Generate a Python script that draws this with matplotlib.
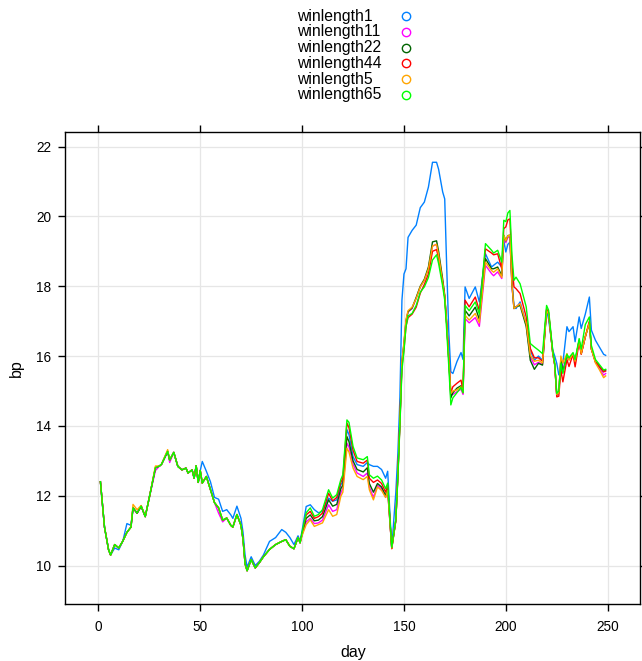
import matplotlib
matplotlib.use("Agg")
import matplotlib.pyplot as plt
from matplotlib.lines import Line2D

plt.rcParams['font.family'] = ['Liberation Sans', 'DejaVu Sans']

# trading days sampled along the series
days = [
    1, 3, 5, 6, 8, 10, 12, 14, 16, 17, 19, 21, 23, 25, 28, 30, 31, 34, 35, 37,
    39, 41, 43, 44, 46, 47, 48, 49, 50,
    51, 53, 55, 57, 59, 61, 63, 65, 66, 68, 70, 71, 72, 73, 75, 77, 79, 81, 84,
    87, 90, 92, 94, 96, 98, 99,
    100, 102, 104, 106, 108, 110, 113, 115, 117, 119, 120, 122, 123, 125, 127,
    130, 132, 133, 135, 137, 139, 141, 142, 144, 146, 147, 148, 149,
    150, 151, 152, 154, 156, 158, 160, 162, 164, 166, 167, 169, 170, 171, 172,
    173, 174, 176, 178, 179, 180, 182, 185, 187, 190, 193, 194, 196, 198, 199,
    200, 201, 202, 203,
    204, 205, 207, 210, 212, 214, 216, 218, 220, 221, 223, 224, 225, 226, 227,
    228, 230, 231, 233, 234, 236, 237, 239, 241, 242, 244, 246, 248, 249,
]

# spread in bp, one list per rolling window length
winlength1 = [
    12.40, 11.10, 10.45, 10.30, 10.50, 10.45, 10.70, 11.20, 11.15, 11.65, 11.50, 11.70, 11.40, 11.95, 12.80, 12.85, 12.90, 13.27, 13.02, 13.24,
    12.84, 12.74, 12.79, 12.65, 12.74, 12.50, 12.86, 12.38, 12.72,
    12.98, 12.70, 12.40, 11.95, 11.90, 11.55, 11.60, 11.45, 11.35, 11.70, 11.35, 10.95, 10.30, 9.95, 10.25, 10.00, 10.12, 10.30, 10.69,
    10.80, 11.03, 10.95, 10.80, 10.60, 10.85, 10.70,
    11.00, 11.69, 11.74, 11.60, 11.51, 11.55, 11.93, 11.84, 11.88, 12.31, 12.40, 13.89, 13.75, 13.12, 12.89,
    12.84, 12.95, 12.89, 12.84, 12.84, 12.75, 12.50, 12.70, 10.50, 12.10, 13.20, 14.80, 17.60,
    18.35, 18.50, 19.40, 19.60, 19.75, 20.25, 20.41, 20.84, 21.55, 21.55, 21.35, 20.70, 20.50, 18.50, 16.70,
    15.55, 15.50, 15.84, 16.10, 15.90, 17.98, 17.65, 17.98, 17.55, 18.93, 18.55, 18.60, 18.69, 18.55, 19.30,
    18.98, 19.20, 19.26, 18.20,
    17.41, 17.36, 17.55, 16.93, 16.17, 15.88, 16.00, 15.88, 17.31, 17.05, 16.17, 16.00, 15.79, 15.46, 15.50,
    15.80, 16.84, 16.70, 16.84, 16.41, 17.12, 16.79, 17.20, 17.69, 16.74, 16.45, 16.25, 16.05, 16.02,
]
winlength11 = [
    12.40, 11.10, 10.45, 10.30, 10.60, 10.50, 10.70, 10.95, 11.10, 11.65, 11.50, 11.70, 11.40, 11.95, 12.72, 12.85, 12.90, 13.27, 12.95, 13.24,
    12.84, 12.74, 12.79, 12.65, 12.74, 12.50, 12.86, 12.38, 12.72,
    12.36, 12.55, 12.17, 11.80, 11.50, 11.25, 11.36, 11.15, 11.10, 11.46, 11.15, 10.75, 10.05, 9.85, 10.17, 9.93, 10.08, 10.25, 10.46,
    10.60, 10.69, 10.74, 10.55, 10.48, 10.80, 10.65,
    10.88, 11.25, 11.35, 11.20, 11.22, 11.30, 11.74, 11.55, 11.60, 12.08, 12.20, 13.50, 13.40, 12.90, 12.65,
    12.55, 12.65, 12.25, 11.95, 12.30, 12.20, 11.95, 12.15, 10.50, 11.30, 12.60, 14.10, 15.80,
    16.35, 17.00, 17.27, 17.36, 17.65, 17.98, 18.17, 18.50, 19.15, 19.20, 18.90, 18.10, 17.70, 16.90, 15.90,
    14.90, 14.90, 14.98, 15.05, 14.90, 17.07, 16.95, 17.10, 16.85, 18.60, 18.36, 18.30, 18.41, 18.22, 19.40,
    19.25, 19.40, 19.40, 18.00,
    17.36, 17.41, 17.50, 16.90, 15.98, 15.75, 15.82, 15.76, 17.30, 17.20, 16.10, 15.75, 14.88, 14.95, 15.90,
    15.60, 16.00, 15.90, 16.07, 15.85, 16.45, 16.07, 16.55, 16.95, 16.20, 15.83, 15.65, 15.45, 15.50,
]
winlength22 = [
    12.40, 11.10, 10.45, 10.30, 10.60, 10.50, 10.70, 10.95, 11.10, 11.65, 11.50, 11.70, 11.40, 11.95, 12.80, 12.85, 12.90, 13.27, 13.02, 13.24,
    12.84, 12.74, 12.79, 12.65, 12.74, 12.50, 12.86, 12.38, 12.72,
    12.36, 12.55, 12.17, 11.80, 11.65, 11.30, 11.36, 11.15, 11.10, 11.46, 11.15, 10.75, 10.05, 9.85, 10.17, 9.93, 10.08, 10.25, 10.46,
    10.60, 10.69, 10.74, 10.55, 10.48, 10.80, 10.65,
    10.90, 11.35, 11.45, 11.28, 11.30, 11.40, 11.88, 11.70, 11.75, 12.20, 12.30, 13.69, 13.55, 13.00, 12.75,
    12.68, 12.80, 12.35, 12.10, 12.35, 12.25, 12.00, 12.20, 10.50, 11.30, 12.60, 14.15, 15.85,
    16.35, 17.00, 17.27, 17.38, 17.68, 18.00, 18.20, 18.55, 19.27, 19.30, 19.00, 18.20, 17.75, 16.90, 15.90,
    14.80, 14.95, 15.08, 15.15, 14.95, 17.31, 17.15, 17.40, 17.05, 18.79, 18.50, 18.50, 18.55, 18.30, 19.46,
    19.30, 19.45, 19.46, 18.05,
    17.36, 17.41, 17.45, 16.85, 15.88, 15.62, 15.79, 15.74, 17.30, 17.20, 16.10, 15.75, 14.88, 14.95, 15.90,
    15.55, 16.00, 15.90, 16.07, 15.85, 16.45, 16.07, 16.55, 16.95, 16.20, 15.83, 15.70, 15.55, 15.60,
]
winlength44 = [
    12.40, 11.10, 10.45, 10.30, 10.60, 10.50, 10.70, 10.95, 11.10, 11.65, 11.50, 11.70, 11.40, 11.95, 12.80, 12.85, 12.90, 13.27, 13.02, 13.24,
    12.84, 12.74, 12.79, 12.65, 12.74, 12.50, 12.86, 12.38, 12.72,
    12.36, 12.55, 12.17, 11.80, 11.65, 11.30, 11.36, 11.15, 11.10, 11.46, 11.15, 10.75, 10.05, 9.85, 10.17, 9.93, 10.08, 10.25, 10.46,
    10.60, 10.69, 10.74, 10.55, 10.48, 10.80, 10.65,
    10.92, 11.45, 11.55, 11.35, 11.40, 11.50, 12.07, 11.85, 11.95, 12.38, 12.50, 14.08, 13.95, 13.30, 12.98,
    12.93, 13.02, 12.50, 12.38, 12.45, 12.35, 12.10, 12.30, 10.48, 11.28, 12.55, 14.05, 15.70,
    16.20, 16.85, 17.10, 17.20, 17.40, 17.80, 18.05, 18.35, 19.00, 19.05, 18.80, 18.10, 17.70, 16.90, 15.90,
    14.95, 15.12, 15.22, 15.31, 15.00, 17.60, 17.41, 17.69, 17.30, 19.07, 18.95, 18.90, 18.93, 18.50, 19.65,
    19.70, 19.90, 19.93, 18.60,
    17.98, 17.93, 17.79, 17.12, 16.22, 15.95, 15.95, 15.85, 17.35, 17.25, 16.10, 15.75, 14.83, 14.85, 15.60,
    15.26, 15.90, 15.70, 16.05, 15.69, 16.40, 16.05, 16.55, 17.00, 16.20, 15.83, 15.70, 15.55, 15.57,
]
winlength5 = [
    12.40, 11.10, 10.45, 10.30, 10.60, 10.50, 10.70, 10.95, 11.10, 11.75, 11.60, 11.72, 11.40, 11.95, 12.85, 12.85, 12.90, 13.32, 13.02, 13.24,
    12.84, 12.74, 12.79, 12.65, 12.74, 12.50, 12.86, 12.38, 12.72,
    12.36, 12.55, 12.17, 11.80, 11.65, 11.30, 11.36, 11.15, 11.10, 11.46, 11.15, 10.75, 10.05, 9.85, 10.17, 9.93, 10.08, 10.25, 10.46,
    10.60, 10.69, 10.74, 10.55, 10.48, 10.80, 10.65,
    10.86, 11.17, 11.31, 11.12, 11.17, 11.22, 11.60, 11.41, 11.46, 11.98, 12.10, 13.36, 13.25, 12.79, 12.55,
    12.46, 12.55, 12.17, 11.88, 12.25, 12.15, 11.95, 12.15, 10.50, 11.32, 12.62, 14.15, 15.85,
    16.40, 17.05, 17.30, 17.40, 17.65, 17.98, 18.17, 18.50, 19.15, 19.20, 18.90, 18.10, 17.70, 16.90, 15.90,
    14.93, 15.00, 15.03, 15.12, 14.95, 17.17, 17.03, 17.22, 16.95, 18.69, 18.45, 18.40, 18.50, 18.25, 19.46,
    19.30, 19.45, 19.46, 18.05,
    17.36, 17.41, 17.50, 16.93, 16.03, 15.85, 15.88, 15.80, 17.30, 17.20, 16.10, 15.75, 14.90, 14.95, 16.00,
    15.80, 16.07, 15.88, 16.07, 15.85, 16.45, 16.07, 16.55, 16.95, 16.20, 15.80, 15.60, 15.38, 15.43,
]
winlength65 = [
    12.40, 11.10, 10.45, 10.30, 10.60, 10.50, 10.70, 10.95, 11.10, 11.65, 11.50, 11.70, 11.40, 11.95, 12.80, 12.85, 12.90, 13.27, 13.02, 13.24,
    12.84, 12.74, 12.79, 12.65, 12.74, 12.50, 12.86, 12.38, 12.72,
    12.36, 12.55, 12.17, 11.80, 11.65, 11.30, 11.36, 11.15, 11.10, 11.46, 11.15, 10.75, 10.05, 9.85, 10.17, 9.93, 10.08, 10.25, 10.46,
    10.60, 10.69, 10.74, 10.55, 10.48, 10.80, 10.65,
    10.95, 11.51, 11.65, 11.41, 11.46, 11.60, 12.17, 11.93, 12.03, 12.46, 12.60, 14.17, 14.10, 13.41, 13.08,
    13.03, 13.12, 12.60, 12.50, 12.56, 12.45, 12.20, 12.36, 10.52, 11.30, 12.50, 14.00, 15.60,
    16.15, 16.85, 17.15, 17.22, 17.45, 17.83, 17.98, 18.25, 18.75, 18.90, 18.65, 18.00, 17.60, 16.70, 15.70,
    14.60, 14.80, 14.95, 15.10, 14.95, 17.45, 17.30, 17.55, 17.20, 19.22, 19.03, 18.95, 19.03, 18.69, 19.89,
    19.85, 20.10, 20.17, 18.90,
    18.17, 18.26, 18.07, 17.41, 16.36, 16.26, 16.17, 16.07, 17.45, 17.31, 16.17, 15.79, 14.93, 15.00, 15.80,
    15.50, 16.05, 15.95, 16.10, 15.90, 16.50, 16.20, 16.90, 17.12, 16.30, 15.90, 15.75, 15.60, 15.62,
]

series = [
    ('winlength1', winlength1, '#0080ff'),
    ('winlength11', winlength11, '#ff00ff'),
    ('winlength22', winlength22, '#006400'),
    ('winlength44', winlength44, '#ff0000'),
    ('winlength5', winlength5, '#ffa500'),
    ('winlength65', winlength65, '#00ff00'),
]

fig = plt.figure(figsize=(6.42, 6.61), dpi=100)
ax = fig.add_axes([0.102, 0.0869, 0.8955, 0.7130])

for name, vals, col in series:
    assert len(vals) == len(days), name
    ax.plot(days, vals, color=col, lw=1.0)

ax.set_xlim(-16.15, 266.05)
ax.set_ylim(8.91, 22.41)
ax.set_xticks([0, 50, 100, 150, 200, 250])
ax.set_yticks([10, 12, 14, 16, 18, 20, 22])
ax.grid(True, color='#e6e6e6', lw=0.9)
ax.set_axisbelow(True)

for sp in ax.spines.values():
    sp.set_linewidth(1.0)
    sp.set_color('black')
ax.tick_params(direction='out', length=5.2, width=1.0, labelsize=9.8,
               top=True, right=True, labeltop=False, labelright=False)
ax.tick_params(axis='x', pad=6.5)
ax.tick_params(axis='y', pad=5.0)
ax.set_xlabel('day', fontsize=11.5, labelpad=8)
ax.set_ylabel('bp', fontsize=11.5, labelpad=9)

# key above the panel: left-aligned names with an open circle to the right
key_top, key_step = 16.0, 15.8
for i, (name, _, col) in enumerate(series):
    yk = 1 - (key_top + i * key_step) / 661
    fig.text(297 / 642, yk, name, ha='left', va='center', fontsize=11.3)
    fig.add_artist(Line2D([406 / 642], [yk], transform=fig.transFigure, ls='none',
                          marker='o', markersize=6, markerfacecolor='none',
                          markeredgecolor=col, markeredgewidth=1.0))

fig.savefig('out.png', dpi=100)
